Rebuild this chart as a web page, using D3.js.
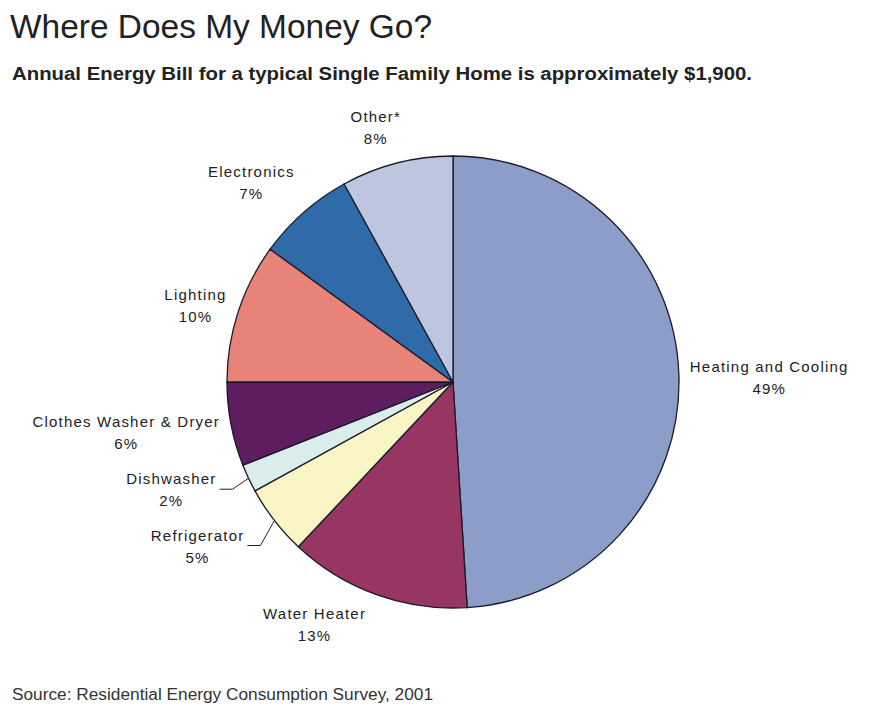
<!DOCTYPE html>
<html>
<head>
<meta charset="utf-8">
<script src="https://cdn.jsdelivr.net/npm/d3@7"></script>
<style>
  body { margin: 0; background: #fff; }
  text { font-family: "Liberation Sans", Arial, sans-serif; fill: #222; }
</style>
</head>
<body>
<div id="wykres"></div>
<script>

// data
var kategorie = ["Heating and Cooling", "Water Heater", "Refrigerator", "Dishwasher",
  "Clothes Washer & Dryer", "Lighting", "Electronics", "Other*"];
var procenty = [49, 13, 5, 2, 6, 10, 7, 8];
var kolory = ["#8b9dc8", "#973662", "#f9f5c5", "#dbecec", "#5d1d5f", "#e8837a", "#2f6aa9", "#bec6df"];

// layout: leader line bend offsets for small slices (null = no line)
var zLinia = [null, null, [-14, 25], [-16, 11], null, null, null, null];
// small layout nudges for labels (px)
var przesuniecie = [[-8, 4], [-38, 2], [0, 0], [0, 0], [6, 3], [5, 3], [-11, -7], [-10, -6]];

var width = 877, height = 720;
var cx = 453, cy = 382, r = 226;

var svg = d3.select("#wykres")
  .append("svg")
  .attr("width", width)
  .attr("height", height)
  .style("background", "white");

svg.append("text")
  .attr("x", 10)
  .attr("y", 38)
  .style("font-size", "34px")
  .attr("textLength", 422)
  .attr("lengthAdjust", "spacingAndGlyphs")
  .text("Where Does My Money Go?");

svg.append("text")
  .attr("x", 12)
  .attr("y", 80)
  .style("font-size", "18px")
  .style("font-weight", "bold")
  .attr("textLength", 740)
  .attr("lengthAdjust", "spacingAndGlyphs")
  .text("Annual Energy Bill for a typical Single Family Home is approximately $1,900.");

svg.append("text")
  .attr("x", 12)
  .attr("y", 700)
  .style("font-size", "16px")
  .style("fill", "#333")
  .attr("textLength", 421)
  .attr("lengthAdjust", "spacingAndGlyphs")
  .text("Source: Residential Energy Consumption Survey, 2001");

var dane = kategorie.map(function (k, i) {
  return { nazwa: k, wartosc: procenty[i], kolor: kolory[i], linia: zLinia[i], nudge: przesuniecie[i] };
});

var pie = d3.pie().sort(null).value(function (d) { return d.wartosc; });
var arc = d3.arc().innerRadius(0).outerRadius(r);

var g = svg.append("g").attr("transform", "translate(" + cx + "," + cy + ")");

g.selectAll("path.kawalek")
  .data(pie(dane))
  .enter().append("path")
  .attr("class", "kawalek")
  .attr("d", arc)
  .attr("fill", function (d) { return d.data.kolor; })
  .attr("stroke", "#1a1a2a")
  .attr("stroke-width", 1.3);

function srodek(d) { return (d.startAngle + d.endAngle) / 2; }

var lineH = 22;

pie(dane).forEach(function (d) {
  var a = srodek(d);
  var s = Math.sin(a), c = -Math.cos(a);
  var lab = g.append("g");
  var t1 = lab.append("text").style("font-size", "15px").style("letter-spacing", "1.2px")
    .attr("text-anchor", "middle").text(d.data.nazwa);
  var t2 = lab.append("text").style("font-size", "15px").style("letter-spacing", "1.2px")
    .attr("text-anchor", "middle").text(d.data.wartosc + "%");
  var w = t1.node().getComputedTextLength();

  if (d.data.linia) {
    var p0 = [s * r, c * r];
    var p1 = [p0[0] + d.data.linia[0], p0[1] + d.data.linia[1]];
    var p2 = [p1[0] - 13, p1[1]];
    g.append("polyline")
      .attr("points", [p0, p1, p2].map(function (p) { return p.join(","); }).join(" "))
      .attr("fill", "none")
      .attr("stroke", "#222")
      .attr("stroke-width", 1);
    var x = p2[0] - 3 - w / 2;
    t1.attr("x", x).attr("y", p2[1] - 5);
    t2.attr("x", x).attr("y", p2[1] - 5 + lineH);
  } else {
    var R = r + 19;
    var x = s * R + s * w / 2 + d.data.nudge[0];
    var yc = c * R + c * lineH / 2 + d.data.nudge[1];
    t1.attr("x", x).attr("y", yc - lineH / 2 + 5);
    t2.attr("x", x).attr("y", yc + lineH / 2 + 5);
  }
});

</script>
</body>
</html>
